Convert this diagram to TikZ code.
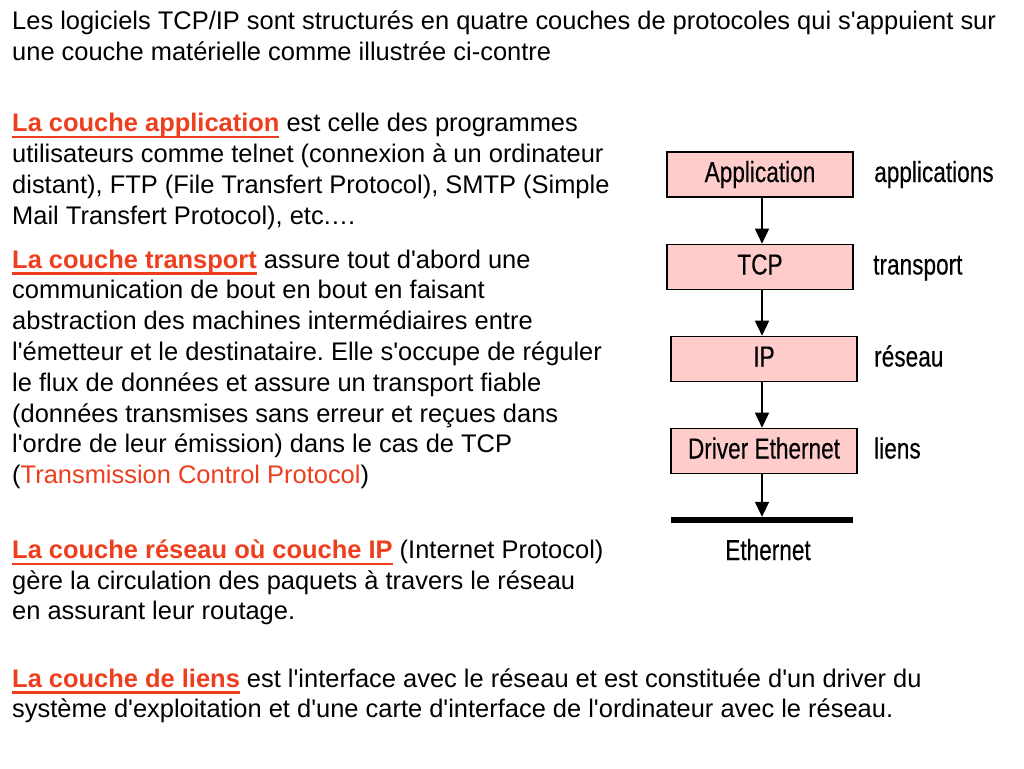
\documentclass[tikz,border=0pt]{standalone}
\usepackage{fontspec}
\setmainfont{Liberation Sans}[Ligatures=TeXOff]
\newfontfamily\condfont{Liberation Sans}[FakeStretch=0.78,FakeBold=0.3,Ligatures=TeXOff]
\usetikzlibrary{arrows.meta}
\definecolor{hred}{RGB}{238,62,30}
\definecolor{boxpink}{RGB}{255,204,204}
\frenchspacing
\newsavebox{\ulsave}
\newcommand{\myul}[1]{\sbox{\ulsave}{#1}\rlap{\rule[-6.6pt]{\wd\ulsave}{2.2pt}}\usebox{\ulsave}}
\newcommand{\hd}[1]{\textcolor{hred}{\textbf{\myul{#1}}}}
\tikzset{
  txt/.style={anchor=base west, inner sep=0pt, font=\fontsize{25.45}{30.8}\selectfont\frenchspacing},
  layer/.style={draw=black, line width=1.6pt, fill=boxpink, minimum width=186pt, minimum height=45pt,
    inner sep=0pt, text height=21pt, text depth=6pt, font=\condfont\fontsize{29}{34}\selectfont},
  lbl/.style={anchor=base west, inner sep=0pt, font=\condfont\fontsize{29}{34}\selectfont},
  conn/.style={line width=1.6pt, -{Triangle[length=15pt,width=14pt]}}
}
\begin{document}
\begin{tikzpicture}[x=1pt,y=-1pt]
\useasboundingbox[fill=white] (0,0) rectangle (1024,768);
% text paragraphs
\node[txt] (p1) at (12,30) {\parbox[t]{1010pt}{Les logiciels TCP/IP sont structurés en quatre couches de protocoles qui s'appuient sur\\une couche matérielle comme illustrée ci-contre}};
\node[txt] (p2) at (12,131.7) {\parbox[t]{640pt}{\hd{La couche application} est celle des programmes\\utilisateurs comme telnet (connexion à un ordinateur\\distant), FTP (File Transfert Protocol), SMTP (Simple\\Mail Transfert Protocol), etc.…}};
\node[txt] (p3) at (12,268) {\parbox[t]{640pt}{\hd{La couche transport} assure tout d'abord une\\communication de bout en bout en faisant\\abstraction des machines intermédiaires entre\\l'émetteur et le destinataire. Elle s'occupe de réguler\\le flux de données et assure un transport fiable\\(données transmises sans erreur et reçues dans\\l'ordre de leur émission) dans le cas de TCP\\(\textcolor{hred}{Transmission Control Protocol})}};
\node[txt] (p4) at (12,558.3) {\parbox[t]{640pt}{\hd{La couche réseau où couche IP} (Internet Protocol)\\gère la circulation des paquets à travers le réseau\\en assurant leur routage.}};
\node[txt] (p5) at (12,687) {\parbox[t]{1010pt}{\hd{La couche de liens} est l'interface avec le réseau et est constituée d'un driver du\\système d'exploitation et d'une carte d'interface de l'ordinateur avec le réseau.}};
% layers
\node[layer] (app) at (760,174.5) {Application};
\node[layer] (tcp) at (760,267) {TCP};
\node[layer] (ip) at (764,359) {IP};
\node[layer] (drv) at (764,451) {Driver Ethernet};
\node[fill=black, inner sep=0pt, minimum width=182pt, minimum height=6pt] (bus) at (762,520) {};
\coordinate (ax) at (762,0);
\draw[conn] (app.south -| ax) -- (tcp.north -| ax);
\draw[conn] (tcp.south -| ax) -- (ip.north -| ax);
\draw[conn] (ip.south -| ax) -- (drv.north -| ax);
\draw[conn] (drv.south -| ax) -- (bus.north -| ax);
% labels
\node[lbl] (lapp) at (874,182) {applications};
\node[lbl] (ltcp) at (873,274.5) {transport};
\node[lbl] (lip) at (874,366.5) {réseau};
\node[lbl] (ldrv) at (874,458.5) {liens};
\node[lbl, anchor=base] (leth) at (768,560) {Ethernet};
\end{tikzpicture}
\end{document}
